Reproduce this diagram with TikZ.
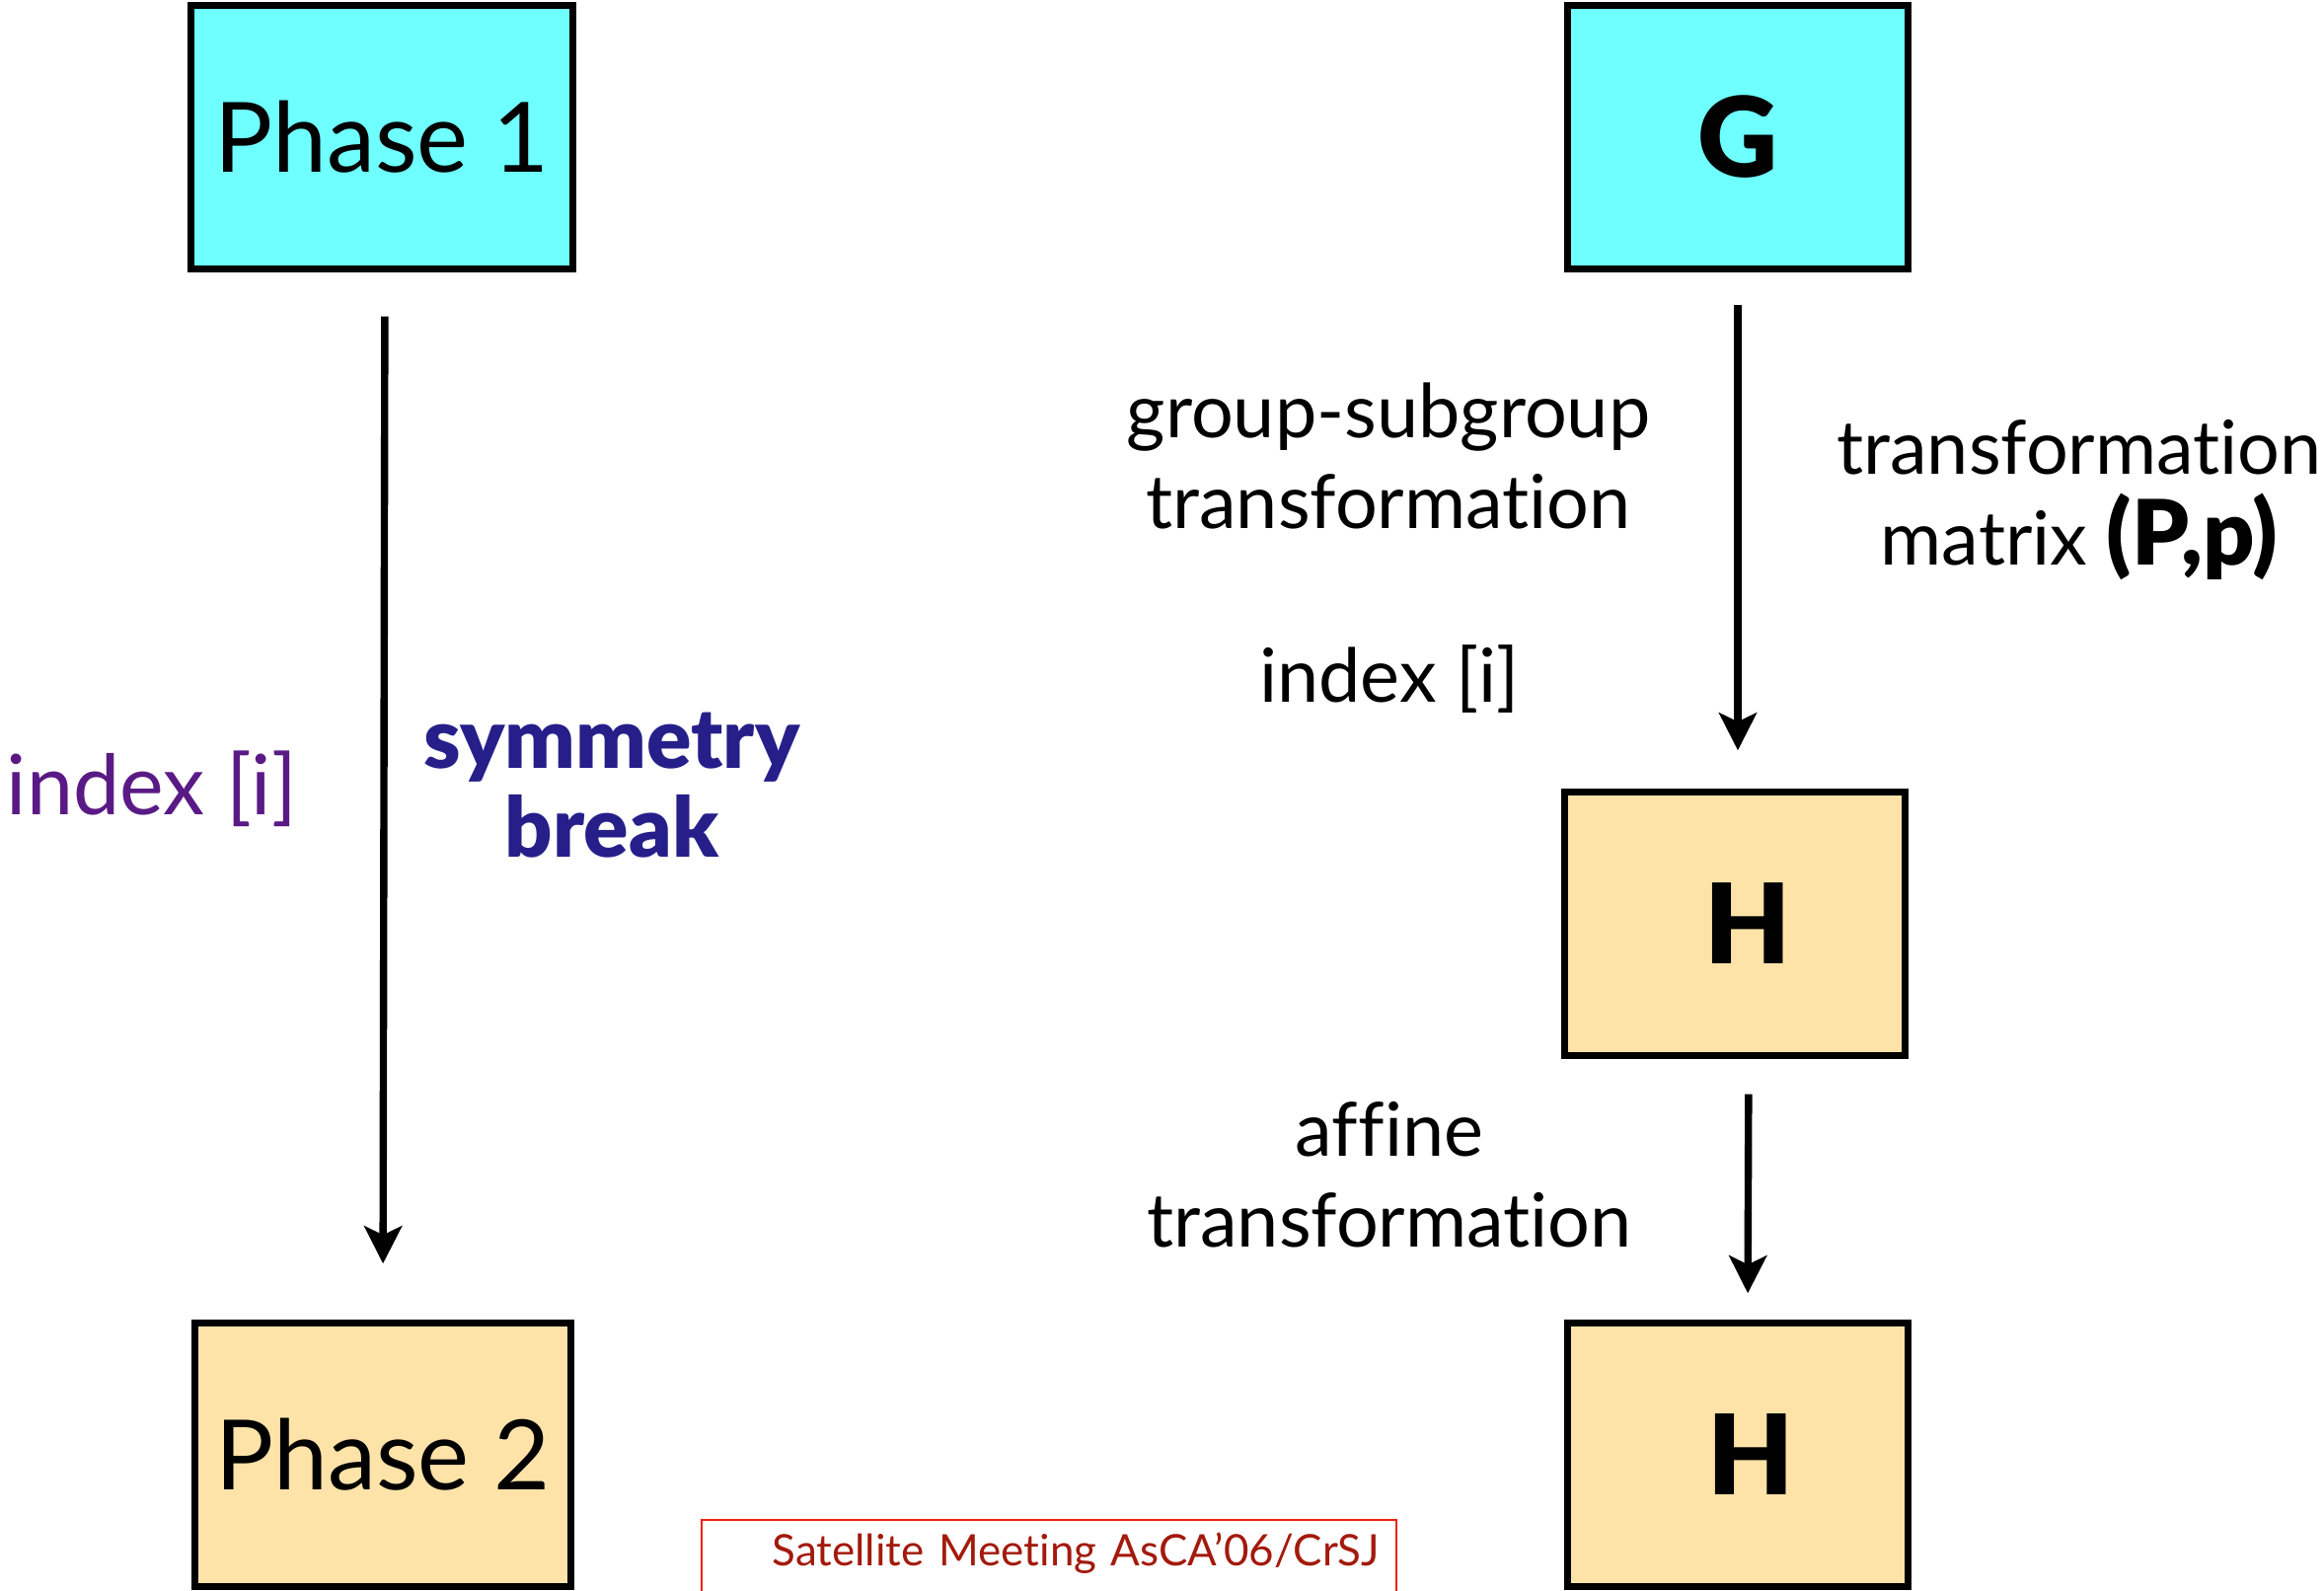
\documentclass[tikz,border=0pt]{standalone}
\usepackage{fontspec}
\setmainfont{Lato}[Ligatures=NoCommon]
\newfontfamily\heavyfont{Lato Black}
\usepackage{tikz}
\usetikzlibrary{arrows.meta}
\usepackage{xcolor}

\definecolor{boxcyan}{HTML}{6FFFFF}
\definecolor{boxsand}{HTML}{FEE3A9}
\definecolor{breakblue}{HTML}{261F8A}
\definecolor{indexpurple}{HTML}{5A1A85}
\definecolor{meetred}{HTML}{A31A0C}
\definecolor{meetframe}{HTML}{F0200E}

\tikzset{
  phase/.style={draw=black, line width=1.8pt, minimum height=2.67cm, font=\fontsize{28}{34}\selectfont},
  group/.style={phase, minimum width=3.45cm, font=\fontsize{32}{38}\heavyfont},
  lbl/.style={align=center, font=\fontsize{21.5}{26.2}\selectfont},
  down/.style={-{Stealth[length=0.38cm,width=0.38cm,inset=0.09cm]}, line width=2.1pt},
}

\begin{document}
\begin{tikzpicture}
    \clip (0,0) rectangle (23.55,16.12);
    % left column: the two phases
    \node[phase, fill=boxcyan, minimum width=3.87cm] (p1) at (3.87,14.73) {Phase 1};
    \node[phase, fill=boxsand, minimum width=3.81cm] (p2) at (3.88,1.38) {Phase 2};
    \draw[down, shorten <=0.45cm, shorten >=0.57cm] ([xshift=0.03cm]p1.south) -- (p2.north);
    \node[lbl, text=indexpurple, font=\fontsize{24}{29}\selectfont] (idxp) at (1.54,8.13) {index [i]};
    \node[lbl, text=breakblue, font=\fontsize{24}{25.6}\heavyfont] (brk) at (6.20,8.16) {symmetry\\break};
    % right column: G -> H -> H
    \node[group, fill=boxcyan] (g) at (17.61,14.73) {G};
    \node[group, fill=boxsand] (h1) at (17.58,6.76) {\hspace{0.26cm}H};
    \node[group, fill=boxsand] (h2) at (17.61,1.38) {\hspace{0.26cm}H};
    \draw[down, shorten <=0.33cm, shorten >=0.39cm] (g.south) -- (g.south |- h1.north);
    \draw[down, shorten <=0.36cm, shorten >=0.27cm] ([xshift=0.14cm]h1.south) -- ([xshift=0.10cm]h2.north);
    \node[lbl] (sub) at (14.07,11.50) {group-subgroup\\transformation};
    \node[lbl] (mat) at (21.07,11.05) {transformation\\matrix {\fontsize{26}{26}\heavyfont (P,p)}};
    \node[lbl] (idx) at (14.08,9.24) {index [i]};
    \node[lbl] (aff) at (14.08,4.22) {affine\\transformation};
    % footer
    \node[draw=meetframe, line width=0.8pt, text=meetred, anchor=base,
          text width=6.7cm, align=right, inner xsep=0.17cm, inner ysep=0.1cm,
          text height=0.37cm, text depth=0.6cm, font=\fontsize{12.5}{15}\selectfont]
        (meet) at (10.63,0.25) {Satellite Meeting AsCA’06/CrSJ};
\end{tikzpicture}
\end{document}
